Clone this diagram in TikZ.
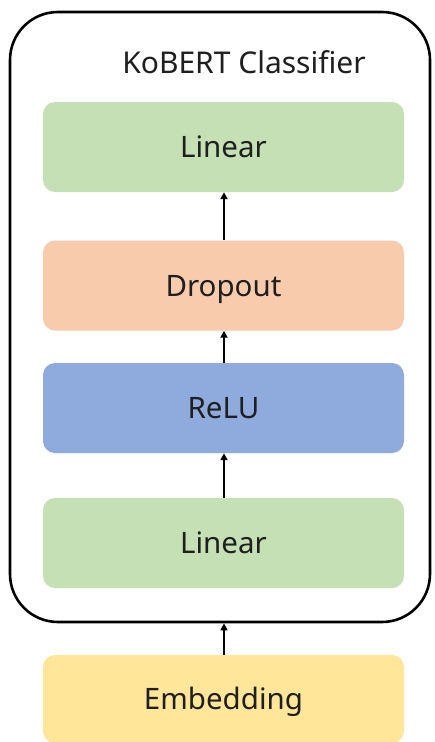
\documentclass[tikz,border=0pt]{standalone}
\usepackage{fontspec}
\setmainfont{Noto Sans}
\usetikzlibrary{arrows.meta}
\definecolor{cgreen}{HTML}{C5E0B4}
\definecolor{corange}{HTML}{F8CBAD}
\definecolor{cblue}{HTML}{8FAADC}
\definecolor{cyellow}{HTML}{FFE699}
\tikzset{
  layer/.style={rounded corners=12pt, minimum width=361pt, minimum height=90pt, inner sep=0pt, font=\fontsize{29.5}{34}\selectfont, text=black!88, text height=21.5pt, text depth=0pt},
  conn/.style={line width=1.8pt, -{Triangle[length=7pt,width=7pt]}},
}
\begin{document}
\begin{tikzpicture}[x=1pt,y=1pt]
\useasboundingbox[fill=white] (0,0) rectangle (434,-742);
\node[draw=black, line width=2.6pt, rounded corners=48pt, minimum width=420pt, minimum height=610pt, inner sep=0pt] (outer) at (220,-317) {};
\node[font=\fontsize{30}{34}\selectfont, text=black!88, anchor=base] (title) at (244,-73.3) {KoBERT Classifier};
\node[layer, fill=cgreen] (lin2) at (223.5,-147) {Linear};
\node[layer, fill=corange] (drop) at (223.5,-285.5) {Dropout};
\node[layer, fill=cblue] (relu) at (223.5,-408) {ReLU};
\node[layer, fill=cgreen] (lin1) at (223.5,-543) {Linear};
\node[layer, fill=cyellow, minimum height=88pt] (emb) at (223.5,-699) {Embedding};
\draw[conn] (drop.north -| 224,0) -- (lin2.south -| 224,0);
\draw[conn] (relu.north -| 224,0) -- (drop.south -| 224,0);
\draw[conn] (lin1.north -| 224,0) -- (relu.south -| 224,0);
\draw[conn] (emb.north -| 224,0) -- (outer.south -| 224,0);
\end{tikzpicture}
\end{document}
